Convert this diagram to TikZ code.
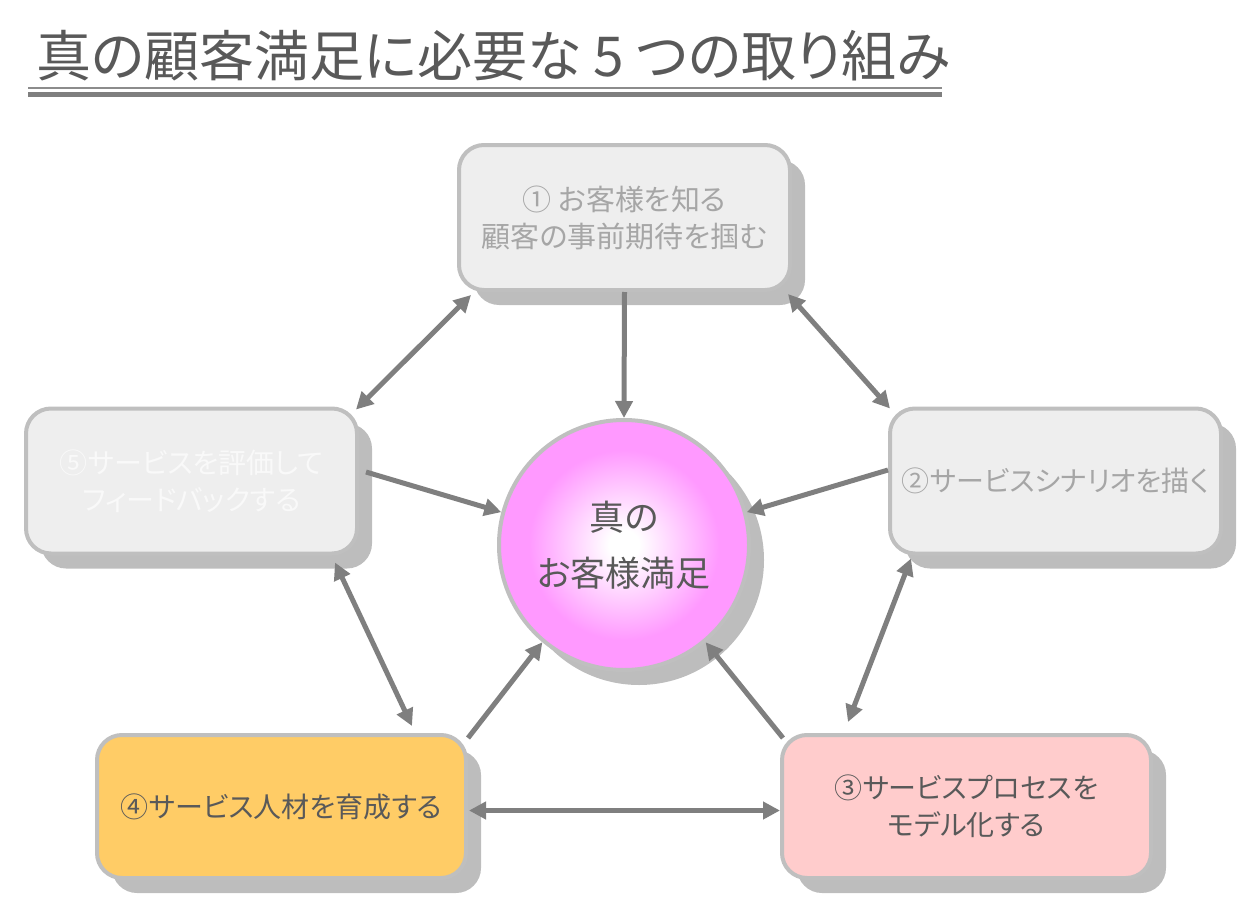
\documentclass[tikz,border=0pt]{standalone}
\usepackage{fontspec}
\setmainfont{Noto Sans CJK JP}[RawFeature=+palt]
\usetikzlibrary{arrows.meta,shadows,calc}
\definecolor{bordergray}{HTML}{BFBFBF}
\definecolor{shadowgray}{HTML}{BDBDBD}
\definecolor{boxgray}{HTML}{EEEEEE}
\definecolor{lighttext}{HTML}{A6A6A6}
\definecolor{darktext}{HTML}{595959}
\definecolor{arrowgray}{HTML}{7F7F7F}
\definecolor{linegray}{HTML}{8C8C8C}
\definecolor{orangefill}{HTML}{FFCC66}
\definecolor{pinkfill}{HTML}{FFCCCC}
\definecolor{circpink}{HTML}{FF99FF}
\definecolor{ghosttext}{HTML}{F9F9F9}
\pgfdeclareradialshading{pinkball}{\pgfpoint{0bp}{0bp}}{color(0bp)=(white); color(3bp)=(white); color(19bp)=(circpink); color(50bp)=(circpink)}
\begin{document}
\begin{tikzpicture}[x=1pt,y=-1pt,
  box/.style={draw=bordergray, line width=4pt, rounded corners=25pt, align=center, inner sep=0pt,
    font=\fontsize{28}{37}\selectfont,
    drop shadow={shadow xshift=15pt, shadow yshift=-15pt, fill=shadowgray, opacity=1}},
  topbox/.style={box, minimum width=331pt, minimum height=145pt},
  botbox/.style={box, minimum width=369pt, minimum height=143pt},
  tipa/.tip={Triangle[length=17pt,width=17pt]},
  conn/.style={draw=arrowgray, line width=5pt, -tipa},
  biconn/.style={draw=arrowgray, line width=5pt, tipa-tipa},
]
\useasboundingbox (0,0) rectangle (1240,899);
% title
\node[anchor=west, inner sep=0pt, text=darktext, font=\fontsize{55}{62}\selectfont] (title) at (36,56) {真の顧客満足に必要な 5 つの取り組み};
\draw[line width=2pt, color=linegray] (28,88.5) -- (942,88.5);
\draw[line width=5pt, color=arrowgray] (28,94.5) -- (942,94.5);
% boxes
\node[topbox, fill=boxgray, text=lighttext, font=\fontsize{29}{37}\selectfont] (b1) at (624.5,217.5) {① お客様を知る\\顧客の事前期待を掴む};
\node[topbox, fill=boxgray, text=ghosttext] (b5) at (191.5,481) {⑤サービスを評価して\\フィードバックする};
\node[topbox, fill=boxgray, text=lighttext] (b2) at (1055.5,481) {②サービスシナリオを描く};
\node[botbox, fill=orangefill, text=darktext] (b4) at (281.5,806.5) {④サービス人材を育成する};
\node[botbox, fill=pinkfill, text=darktext] (b3) at (966.5,806.5) {③サービスプロセスを\\モデル化する};
% center circle
\node[circle, draw=bordergray, line width=4pt, shading=pinkball, minimum size=250pt, inner sep=0pt,
  align=center, text=darktext, font=\fontsize{35}{56}\selectfont,
  drop shadow={shadow xshift=15pt, shadow yshift=-15pt, fill=shadowgray, opacity=1}] (c) at (624,545) {真の\\お客様満足};
% connectors
\draw[conn] (b1.south) -- (c.north);
\draw[biconn] ($(b1.south west)+(14,3)$) -- ($(b5.north east)+(-3,3)$);
\draw[biconn] ($(b1.south east)+(-4,2)$) -- ($(b2.north west)+(2,2)$);
\draw[conn] ($(b5.east)+(7,-9)$) -- (c.165);
\draw[conn] ($(b2.west)+(0,-11)$) -- (c.15);
\draw[biconn] ($(b5.south east)+(-24,7)$) -- ($(b4.north east)+(-56,-7)$);
\draw[biconn] ($(b2.south west)+(23,3)$) -- ($(b3.north west)+(68,-11)$);
\draw[conn] ($(b4.north east)+(0,5)$) -- (c.230);
\draw[conn] ($(b3.north west)+(3,5)$) -- (c.310);
\draw[biconn] ($(b4.east)+(1,4)$) -- ($(b3.west)+(0,4)$);
\end{tikzpicture}
\end{document}
